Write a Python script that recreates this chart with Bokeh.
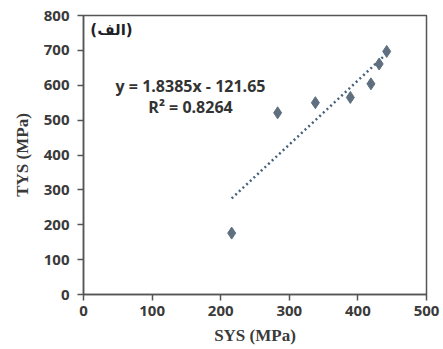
import numpy as np
from bokeh.plotting import figure
from bokeh.models import Label, FixedTicker, Range1d
from bokeh.embed import file_html
from bokeh.resources import INLINE

# Data
sys_mpa = [216, 283, 338, 389, 419, 431, 442]
tys_mpa = [176, 521, 550, 565, 604, 661, 697]
slope = 1.8385
intercept = -121.65
r2 = 0.8264
x_ticks = [0, 100, 200, 300, 400, 500]
y_ticks = [0, 100, 200, 300, 400, 500, 600, 700, 800]

p = figure(width=443, height=349, output_backend="svg", toolbar_location=None,
           x_range=Range1d(0, 500), y_range=Range1d(0, 800),
           min_border_left=83, min_border_right=17, min_border_top=15, min_border_bottom=55)
p.grid.visible = False
p.background_fill_color = "white"
p.border_fill_color = "white"
p.outline_line_color = "#555555"
p.outline_line_width = 1.5

for ax in (p.xaxis[0], p.yaxis[0]):
    ax.axis_line_color = "#555555"
    ax.axis_line_width = 1.5
    ax.major_tick_line_color = "#555555"
    ax.major_tick_line_width = 1.5
    ax.major_tick_in = 0
    ax.major_tick_out = 6
    ax.minor_tick_line_color = None
    ax.major_label_text_font = "Open Sans"
    ax.major_label_text_font_style = "bold"
    ax.major_label_text_font_size = "15px"
    ax.major_label_text_color = "#3a3a3a"
    ax.axis_label_text_font = "Liberation Serif"
    ax.axis_label_text_font_style = "bold"
    ax.axis_label_text_font_size = "17px"
    ax.axis_label_text_color = "#3a3a3a"

p.xaxis.ticker = FixedTicker(ticks=x_ticks)
p.yaxis.ticker = FixedTicker(ticks=y_ticks)
p.xaxis.axis_label = "SYS (MPa)"
p.yaxis.axis_label = "TYS (MPa)"
p.xaxis.major_label_standoff = 5
p.yaxis.major_label_standoff = 8
p.xaxis.axis_label_standoff = 7
p.yaxis.axis_label_standoff = 9

# Trend line from the equation over the data span
xs = np.array([min(sys_mpa), max(sys_mpa)])
ys = slope * xs + intercept
p.line(xs, ys, line_color="#44627c", line_width=2.5, line_dash="2 3")

p.scatter(sys_mpa, tys_mpa, marker="diamond", size=12, fill_color="#5f6f7f",
          line_color="#5f6f7f")

p.add_layout(Label(x=156, y=599, text="y = 1.8385x - 121.65", text_align="center",
                   text_baseline="middle", text_font="Open Sans", text_font_style="bold",
                   text_font_size="16px", text_color="#333333"))
p.add_layout(Label(x=156, y=539, text="R\u00b2 = 0.8264", text_align="center",
                   text_baseline="middle", text_font="Open Sans", text_font_style="bold",
                   text_font_size="16px", text_color="#333333"))
p.add_layout(Label(x=10, y=759, text="(الف)", text_align="left",
                   text_baseline="middle", text_font="DejaVu Sans", text_font_style="bold",
                   text_font_size="15px", text_color="#1f1f2a"))

open("out.html", "w").write(file_html(p, INLINE))
